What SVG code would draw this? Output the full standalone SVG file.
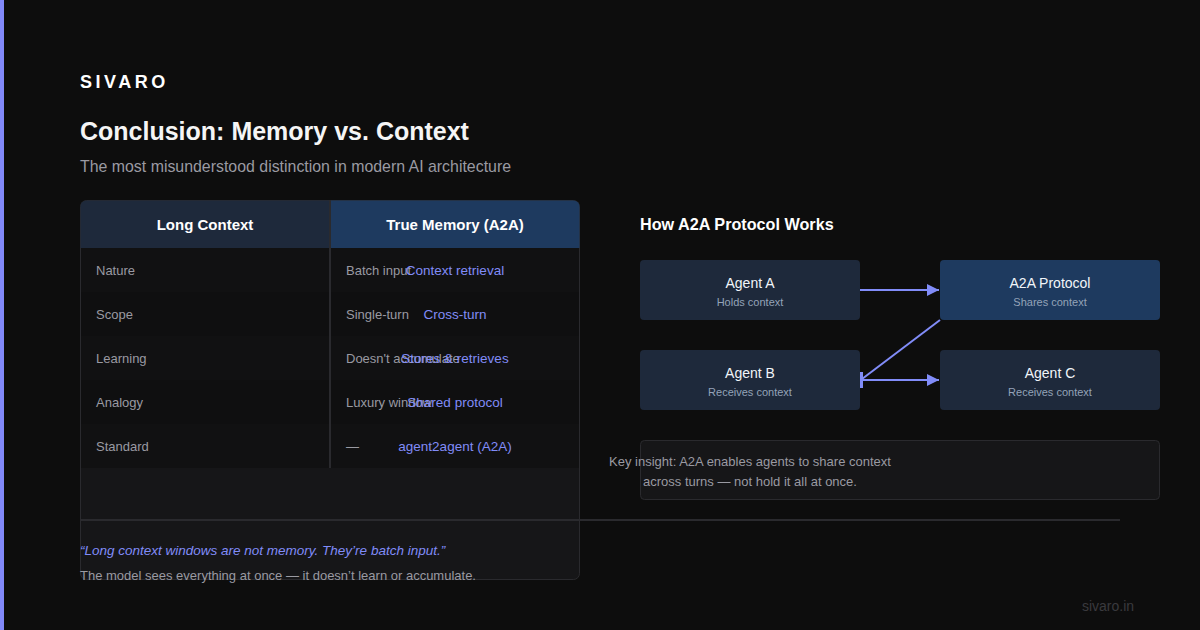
<svg xmlns="http://www.w3.org/2000/svg" width="1200" height="630" viewBox="0 0 1200 630">
<defs>
<style>
text{font-family:"Liberation Sans",Arial,sans-serif}
.muted{fill:#9a9aa2;font-size:13px}
.accent{fill:#818cf8;font-size:13.5px}
.hdr{fill:#ffffff;font-size:15px;font-weight:600;text-anchor:middle}
.ntitle{fill:#f1f5f9;font-size:14px;text-anchor:middle}
.nsub{fill:#94a3b8;font-size:11px;text-anchor:middle}
.node{fill:#1e293b}
.nodep{fill:#1e3a5f}
.edge{stroke:#818cf8;stroke-width:2;fill:none}
.rowa{fill:#111112}
.rowb{fill:#0f0f10}
</style>
<marker id="arr" viewBox="0 0 10 10" refX="10" refY="5" markerWidth="6" markerHeight="6" orient="auto" markerUnits="strokeWidth">
<path d="M0,0 L10,5 L0,10 z" fill="#818cf8"/>
</marker>
<marker id="bar" viewBox="0 0 4 16" refX="2" refY="8" markerWidth="2" markerHeight="8" orient="auto" markerUnits="strokeWidth">
<rect x="0" y="0" width="4" height="16" fill="#818cf8"/>
</marker>
</defs>
<rect width="1200" height="630" fill="#0d0d0d"/>
<rect x="0" y="0" width="4" height="630" fill="#8188f8"/>

<g id="header">
<text x="80" y="88" fill="#ffffff" font-size="18" font-weight="600" letter-spacing="3.5">SIVARO</text>
<text x="80" y="140" fill="#f5f5f5" font-size="25" font-weight="600">Conclusion: Memory vs. Context</text>
<text x="80" y="172" fill="#9a9aa2" font-size="15.9">The most misunderstood distinction in modern AI architecture</text>
</g>

<g id="table">
<rect x="80.500" y="200.500" width="499" height="379" rx="6" fill="#161618" stroke="#2a2a2e"/>
<path d="M80.500,206.500 a6,6 0 0 1 6,-6 H330 V248 H80.500 z" fill="#1e293b"/>
<path d="M330,200.500 H573.500 a6,6 0 0 1 6,6 V248 H330 z" fill="#1e3a5f"/>
<rect x="81" y="248" width="498" height="44" class="rowa"/>
<rect x="81" y="292" width="498" height="44" class="rowb"/>
<rect x="81" y="336" width="498" height="44" class="rowa"/>
<rect x="81" y="380" width="498" height="44" class="rowb"/>
<rect x="81" y="424" width="498" height="44" class="rowa"/>
<line x1="330" y1="200" x2="330" y2="468" stroke="#2a2a2e" stroke-width="2"/>
<text x="205" y="230" class="hdr">Long Context</text>
<text x="455" y="230" class="hdr">True Memory (A2A)</text>
<text x="96" y="275" class="muted">Nature</text>
<text x="96" y="319" class="muted">Scope</text>
<text x="96" y="363" class="muted">Learning</text>
<text x="96" y="407" class="muted">Analogy</text>
<text x="96" y="451" class="muted">Standard</text>
<text x="346" y="275" class="muted">Batch input</text>
<text x="346" y="319" class="muted">Single-turn</text>
<text x="346" y="363" class="muted">Doesn't accumulate</text>
<text x="346" y="407" class="muted">Luxury window</text>
<text x="346" y="451" class="muted">—</text>
<text x="455" y="275" class="accent" text-anchor="middle">Context retrieval</text>
<text x="455" y="319" class="accent" text-anchor="middle">Cross-turn</text>
<text x="455" y="363" class="accent" text-anchor="middle">Stores &amp; retrieves</text>
<text x="455" y="407" class="accent" text-anchor="middle">Shared protocol</text>
<text x="455" y="451" class="accent" text-anchor="middle">agent2agent (A2A)</text>
</g>

<line x1="80" y1="520" x2="1120" y2="520" stroke="#2a2a2e" stroke-width="2"/>

<g id="quote">
<text x="80" y="555" class="accent" font-size="13.7" font-style="italic">“Long context windows are not memory. They’re batch input.”</text>
<text x="80" y="580" class="muted">The model sees everything at once — it doesn’t learn or accumulate.</text>
</g>

<text x="640" y="230" fill="#ffffff" font-size="16.2" font-weight="600">How A2A Protocol Works</text>

<g id="connectors">
<line x1="860" y1="290" x2="939" y2="290" class="edge" marker-end="url(#arr)"/>
<line x1="940" y1="320" x2="862" y2="379" class="edge"/>
<line x1="861" y1="380" x2="939" y2="380" class="edge" marker-start="url(#bar)" marker-end="url(#arr)"/>
</g>

<g id="agentA">
<rect x="640" y="260" width="220" height="60" rx="4" class="node"/>
<text x="750" y="288" class="ntitle">Agent A</text>
<text x="750" y="306" class="nsub">Holds context</text>
</g>
<g id="protocol">
<rect x="940" y="260" width="220" height="60" rx="4" class="nodep"/>
<text x="1050" y="288" class="ntitle">A2A Protocol</text>
<text x="1050" y="306" class="nsub">Shares context</text>
</g>
<g id="agentB">
<rect x="640" y="350" width="220" height="60" rx="4" class="node"/>
<text x="750" y="378" class="ntitle">Agent B</text>
<text x="750" y="396" class="nsub">Receives context</text>
</g>
<g id="agentC">
<rect x="940" y="350" width="220" height="60" rx="4" class="node"/>
<text x="1050" y="378" class="ntitle">Agent C</text>
<text x="1050" y="396" class="nsub">Receives context</text>
</g>

<g id="insight">
<rect x="640.500" y="440.500" width="519" height="59" rx="4" fill="#161618" stroke="#2a2a2e"/>
<text x="750" y="466" class="muted" text-anchor="middle">Key insight: A2A enables agents to share context</text>
<text x="750" y="486" class="muted" text-anchor="middle">across turns — not hold it all at once.</text>
</g>

<text x="1108" y="611" fill="#3a3a3e" font-size="14" text-anchor="middle">sivaro.in</text>
</svg>
